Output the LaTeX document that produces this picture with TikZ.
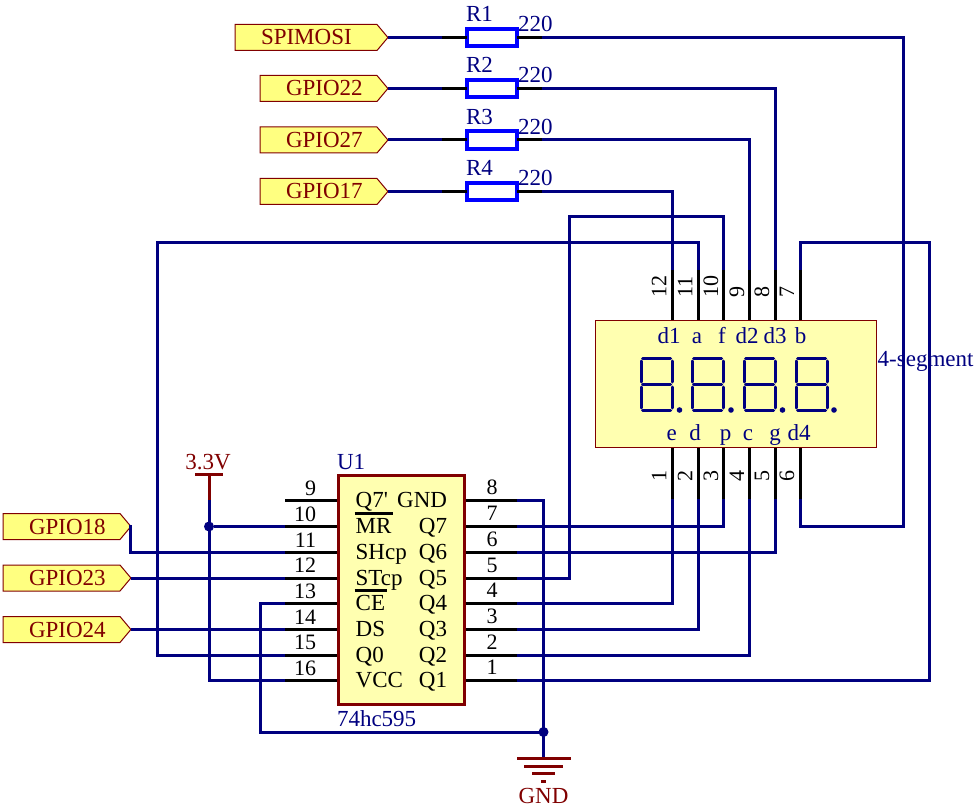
\documentclass[tikz,border=0pt]{standalone}
\usepackage{fontspec}
\setmainfont{Liberation Serif}[Ligatures=TeXOff]
\usetikzlibrary{shapes.symbols,calc}
\definecolor{wirec}{HTML}{000080}
\definecolor{redc}{HTML}{800000}
\definecolor{bodyc}{HTML}{FFFFB0}
\definecolor{flagc}{HTML}{FFFF80}
\definecolor{resc}{HTML}{0000FF}
\tikzset{
  x=1pt,y=-1pt,
  wire/.style={draw=wirec,line width=3pt,line join=miter},
  pinline/.style={draw=black,line width=3pt},
  txt/.style={font=\fontsize{23}{25}\selectfont,inner sep=0pt,outer sep=0pt},
  numtxt/.style={font=\fontsize{22}{24}\selectfont,inner sep=0pt,outer sep=0pt,text=black},
  bluetxt/.style={txt,text=wirec},
  redtxt/.style={txt,text=redc},
  blacktxt/.style={txt,text=black},
  flag/.style={signal,signal to=east,signal from=nowhere,signal pointer angle=100,
    draw=redc,fill=flagc,line width=1pt,inner xsep=0pt,inner ysep=0pt,outer sep=0pt,
    minimum height=26pt,text height=15pt,text depth=0pt,anchor=west,
    font=\fontsize{23}{25}\selectfont,text=redc,align=left},
  res/.style={draw=resc,line width=3.6pt,fill=white,minimum width=49.5pt,minimum height=17.5pt,inner sep=0pt,outer sep=0pt},
  chip/.style={draw=redc,fill=bodyc,inner sep=0pt,outer sep=0pt},
  dot/.style={circle,fill=wirec,minimum size=10pt,inner sep=0pt,outer sep=0pt},
  segm/.style={draw=wirec,line width=3pt,line cap=round},
  gndline/.style={draw=redc,line width=3pt},
}
\begin{document}
\begin{tikzpicture}
\useasboundingbox (0,0) rectangle (977,810);
% flags
\node[flag,text width=142pt] (spi) at (235,37.5) {\hspace*{26pt}SPIMOSI};
\node[flag,text width=117pt] (g22) at (260,88.5) {\hspace*{26pt}GPIO22};
\node[flag,text width=117pt] (g27) at (260,140) {\hspace*{26pt}GPIO27};
\node[flag,text width=117pt] (g17) at (260,191.5) {\hspace*{26pt}GPIO17};
\node[flag,text width=117pt] (g18) at (3,526.5) {\hspace*{26pt}GPIO18};
\node[flag,text width=117pt] (g23) at (3,578) {\hspace*{26pt}GPIO23};
\node[flag,text width=117pt] (g24) at (3,629.5) {\hspace*{26pt}GPIO24};
% resistors
\foreach \n/\y/\a/\b in {1/37.5/21.7/31.7,2/88.5/72.7/82.7,3/140/124.3/135,4/191.5/175.7/185.7}{
  \node[res] (r\n) at (492,\y) {};
  \node[bluetxt,anchor=base west] (rn\n) at (466,\a) {R\n};
  \node[bluetxt,anchor=base west] (rv\n) at (518,\b) {220};
  \coordinate (ra\n) at (442,\y);
  \coordinate (rb\n) at (542,\y);
}
% chips
\node[chip,line width=3pt,minimum width=126pt,minimum height=229pt,anchor=north west] (u1) at (338.5,475.5) {};
\node[chip,line width=1pt,minimum width=281pt,minimum height=127pt,anchor=north west] (disp) at (595.5,320.5) {};
% U1 pins: left 9..16, right 8..1
\foreach \n/\y in {9/500.5,10/526.5,11/552.5,12/578,13/603.5,14/629.5,15/655,16/680.5}{
  \coordinate (l\n) at (285,\y);
  \coordinate (li\n) at (337,\y);
  \node[numtxt,anchor=base east] (ln\n) at (316,\y-5.5) {\n};
}
\foreach \n/\y in {8/500.5,7/526.5,6/552.5,5/578,4/603.5,3/629.5,2/655,1/680.5}{
  \coordinate (q\n) at (517,\y);
  \coordinate (qi\n) at (466,\y);
  \node[numtxt,anchor=base] (qn\n) at (492,\y-6) {\n};
}
% display pins
\foreach \n/\x/\tx in {12/672.5/659,11/698/685,10/723.5/711,9/749.5/737,8/775.5/762,7/800.5/787}{
  \coordinate (t\n) at (\x,270);
  \coordinate (ti\n) at (\x,320);
  \node[numtxt,rotate=90,anchor=west] (tn\n) at (\tx,298) {\n};
}
\foreach \n/\x/\tx in {1/672.5/659,2/698/685,3/723.5/711,4/749.5/737,5/775.5/762,6/800.5/787}{
  \coordinate (b\n) at (\x,499);
  \coordinate (bi\n) at (\x,448);
  \node[numtxt,rotate=90,anchor=center] (bn\n) at (\tx,475.5) {\n};
}
% power
\coordinate (vbar) at (209,474);
\coordinate (vend) at (209,499.5);
\coordinate (gjoin) at (543.5,732);
\coordinate (gbar) at (543.5,758);
\node[dot] (j1) at (209,526.5) {};
\node[dot] (j2) at (543.5,732) {};
% wires
\draw[wire] (spi.east) -- (ra1);
\draw[wire] (g22.east) -- (ra2);
\draw[wire] (g27.east) -- (ra3);
\draw[wire] (g17.east) -- (ra4);
\draw[wire] (rb1) -- (903.5,37.5) |- (800.5,526) -- (b6);
\draw[wire] (rb2) -| (t8);
\draw[wire] (rb3) -| (t9);
\draw[wire] (rb4) -| (t12);
\draw[wire] (t11) |- (157,243) |- (l15);
\draw[wire] (t10) |- (569.5,217) |- (q5);
\draw[wire] (t7) |- (929.5,243) |- (q1);
\draw[wire] (b1) |- (q4);
\draw[wire] (b2) |- (q3);
\draw[wire] (b3) |- (q7);
\draw[wire] (b4) |- (q2);
\draw[wire] (b5) |- (q6);
\draw[wire] (q8) -| (gbar);
\draw[wire] (l13) -| (260.5,732) -- (gjoin);
\draw[wire] (j1) -- (l10);
\draw[wire] (vend) |- (l16);
\draw[wire] ($(g18.east)+(0,-1.3)$) |- (l11);
\draw[wire] (g23.east) -- (l12);
\draw[wire] (g24.east) -- (l14);
% pins
\foreach \n in {1,2,3,4}{
  \draw[pinline] (ra\n) -- (r\n.west);
  \draw[pinline] (r\n.east) -- (rb\n);
}
\foreach \n in {9,...,16}{\draw[pinline] (l\n) -- (li\n);}
\foreach \n in {1,...,8}{\draw[pinline] (q\n) -- (qi\n);}
\foreach \n in {7,...,12}{\draw[pinline] (t\n) -- (ti\n);}
\foreach \n in {1,...,6}{\draw[pinline] (b\n) -- (bi\n);}
% power symbols
\draw[gndline] (vbar) -- (vend);
\draw[gndline] (195,474) -- (223,474);
\draw[gndline] (517,758) -- (571,758);
\draw[gndline] (524,766) -- (563,766);
\draw[gndline] (532,773) -- (555,773);
\draw[gndline] (541,781) -- (546,781);
\node[redtxt,anchor=base] (vl) at (208,469) {3.3V};
\node[redtxt,anchor=base] (gl) at (543.5,803) {GND};
% chip text
\node[bluetxt,anchor=base west] (u1n) at (337,469) {U1};
\node[bluetxt,anchor=base west] (u1v) at (337,726.7) {74hc595};
\foreach \t/\y [count=\i] in {Q7'/500.5,MR/526.5,SHcp/552.5,STcp/578,CE/603.5,DS/629.5,Q0/655,VCC/680.5}{
  \node[blacktxt,anchor=base west] (il\i) at (355.7,\y+7) {\t};
}
\foreach \t/\y [count=\i] in {GND/500.5,Q7/526.5,Q6/552.5,Q5/578,Q4/603.5,Q3/629.5,Q2/655,Q1/680.5}{
  \node[blacktxt,anchor=base east] (ir\i) at (447,\y+7) {\t};
}
\draw[draw=black,line width=3pt] (354.5,513.3) -- (392.7,513.3);
\draw[draw=black,line width=3pt] (354.5,590.7) -- (386.7,590.7);
% display text
\foreach \t/\x [count=\i] in {d1/669,a/697,f/722,d2/747,d3/775,b/800.7}{
  \node[bluetxt,anchor=base] (dt\i) at (\x,343) {\t};
}
\foreach \t/\x [count=\i] in {e/671.7,d/695,p/725.7,c/748,g/775,d4/799}{
  \node[bluetxt,anchor=base] (db\i) at (\x,440.7) {\t};
}
\node[bluetxt,anchor=base west] (dname) at (877.7,366) {4-segment};
% digits
\foreach \x/\dx in {640/679.5,691/731,743/782.5,795/834}{
  \draw[segm] (\x+2.5,358.5) -- (\x+30.5,358.5);
  \draw[segm] (\x+2.5,384.5) -- (\x+30.5,384.5);
  \draw[segm] (\x+2.5,410.5) -- (\x+30.5,410.5);
  \draw[segm] (\x+1,361) -- (\x+1,382);
  \draw[segm] (\x+32,361) -- (\x+32,382);
  \draw[segm] (\x+1,387) -- (\x+1,408);
  \draw[segm] (\x+32,387) -- (\x+32,408);
  \fill[wirec] (\dx,410) circle (2.8);
}
\end{tikzpicture}
\end{document}
